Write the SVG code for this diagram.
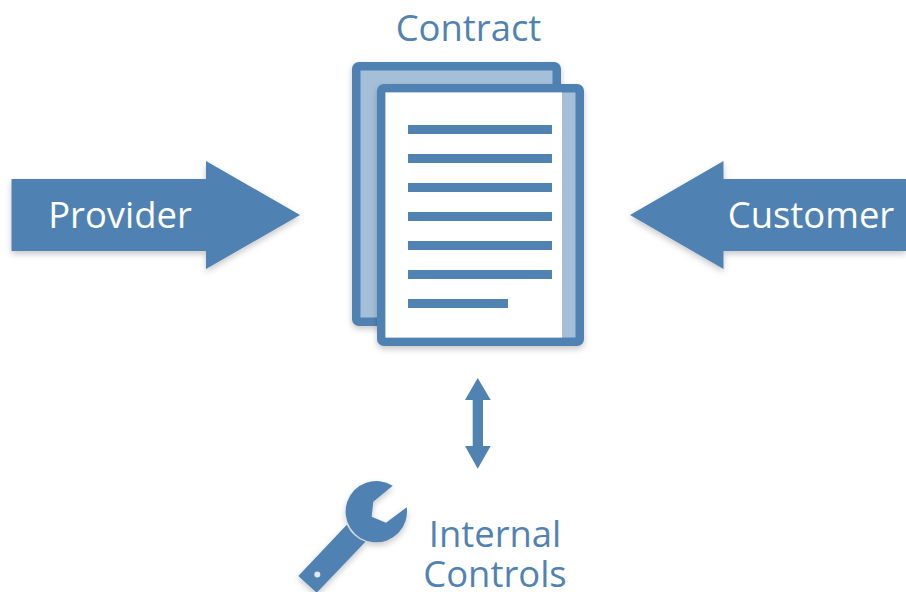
<svg xmlns="http://www.w3.org/2000/svg" width="906" height="592" viewBox="0 0 906 592">
<style>
.b{fill:#5082b2}
.t{font-family:"Open Sans","Liberation Sans",sans-serif;font-size:36.4px;fill:#5082b2;text-anchor:middle}
</style>
<defs>
<filter id="s" x="-10%" y="-10%" width="120%" height="125%"><feDropShadow dx="0" dy="3" stdDeviation="3" flood-color="#000" flood-opacity="0.22"/></filter>
</defs>
<rect width="906" height="592" fill="#fff"/>
<g id="contract">
<text class="t" x="468.5" y="41">Contract</text>
<rect x="356.25" y="66.25" width="200.5" height="255.5" rx="2.5" fill="#a5bfd8" stroke="#5082b2" stroke-width="8.5" filter="url(#s)"/>
<rect x="381.25" y="88.25" width="198.5" height="253.5" rx="2.5" fill="#a5bfd8" stroke="#5082b2" stroke-width="8.5" filter="url(#s)"/>
<rect x="385.5" y="92.5" width="176.5" height="245" fill="#fff"/>
<g class="b">
<rect x="408" y="125" width="144" height="9"/>
<rect x="408" y="154" width="144" height="9"/>
<rect x="408" y="183" width="144" height="9"/>
<rect x="408" y="212" width="144" height="9"/>
<rect x="408" y="241" width="144" height="9"/>
<rect x="408" y="270" width="144" height="9"/>
<rect x="408" y="299" width="100" height="9"/>
</g>
</g>
<g id="provider">
<polygon class="b" points="11.5,179 206,179 206,161 300,215 206,269 206,251 11.5,251" filter="url(#s)"/>
<text class="t" x="120" y="228" style="fill:#fff">Provider</text>
</g>
<g id="customer">
<polygon class="b" points="906,179 723.5,179 723.5,161 630,215 723.5,269 723.5,251 906,251" filter="url(#s)"/>
<text class="t" x="811" y="228" style="fill:#fff">Customer</text>
</g>
<g id="connectors">
<polygon class="b" points="477.7,378 490.7,400 483,400 483,446 490.7,446 477.7,468.7 465,446 472.7,446 472.7,400 465,400"/>
</g>
<g id="internal-controls">
<g filter="url(#s)">
<path class="b" d="M392.7,485.7 L373.3,501.7 L371.7,516.7 L386,522.7 L406.7,507.3 A30.7,30.7 0 1 1 392.7,485.7 Z"/>
<path class="b" d="M346.8,524.8 L298.3,576 L316.7,592.7 L365.5,541.8 A32,32 0 0 1 346.8,524.8 Z"/>
</g>
<circle cx="317.3" cy="574.5" r="3" fill="#dfe6ee"/>
<text class="t" x="495" y="547">Internal</text>
<text class="t" x="495" y="587">Controls</text>
</g>
</svg>
